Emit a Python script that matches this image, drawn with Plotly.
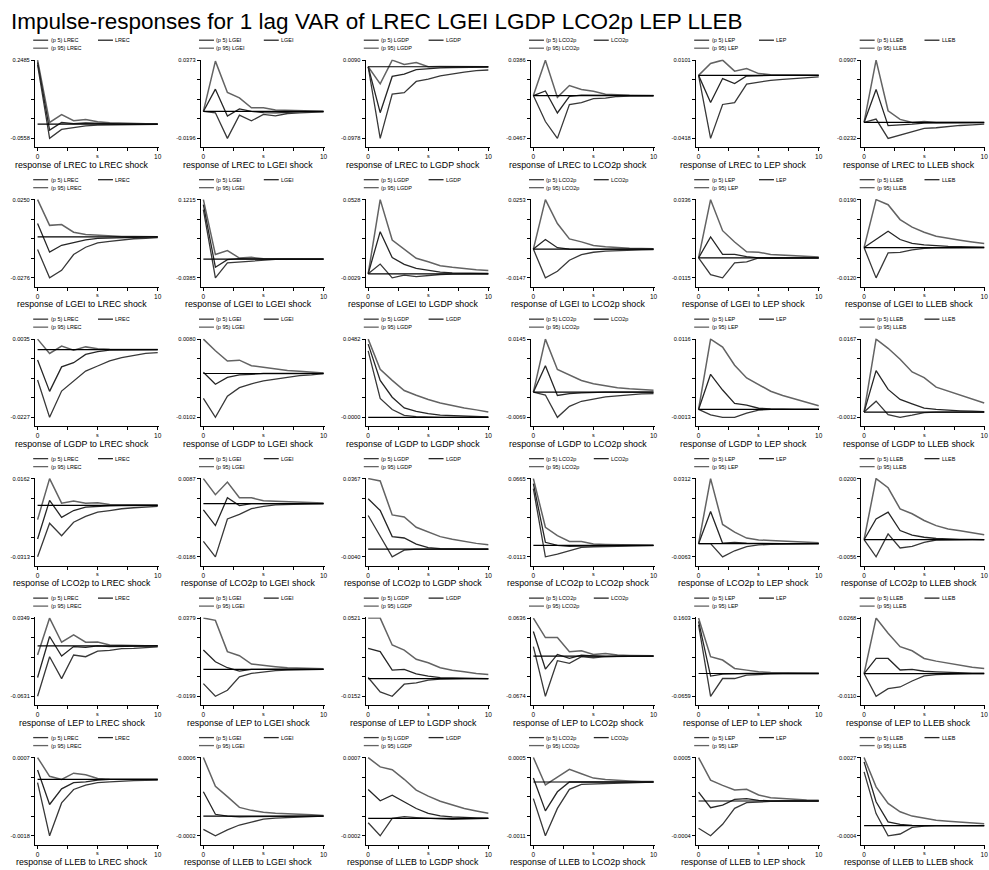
import plotly.graph_objects as go

variables = ["LREC", "LGEI", "LGDP", "LCO2p", "LEP", "LLEB"]
steps = list(range(11))
x_tickvals = [0, 2.5, 5, 7.5, 10]
x_ticktext = ["0", "", "", "", "10"]

# y-axis end labels (min, max) per panel: rows = response, cols = impulse
y_min = [
    [-0.0558, -0.0196, -0.0978, -0.0467, -0.0418, -0.0232],
    [-0.0276, -0.0385, -0.0029, -0.0147, -0.0115, -0.0120],
    [-0.0227, -0.0102, -0.0, -0.0069, -0.0013, -0.0012],
    [-0.0313, -0.0186, -0.0040, -0.0113, -0.0063, -0.0056],
    [-0.0631, -0.0199, -0.0152, -0.0674, -0.0659, -0.0110],
    [-0.0018, -0.0002, -0.0002, -0.0011, -0.0004, -0.0004],
]
y_max = [
    [0.2485, 0.0373, 0.0090, 0.0386, 0.0101, 0.0907],
    [0.0250, 0.1215, 0.0528, 0.0253, 0.0336, 0.0190],
    [0.0035, 0.0080, 0.0482, 0.0145, 0.0116, 0.0167],
    [0.0162, 0.0087, 0.0367, 0.0665, 0.0312, 0.0200],
    [0.0349, 0.0379, 0.0521, 0.0636, 0.1603, 0.0268],
    [0.0007, 0.0006, 0.0007, 0.0005, 0.0005, 0.0027],
]

# ---- response of LREC (to LREC, LGEI, LGDP, LCO2p, LEP, LLEB shocks) ----
lrec_p5 = [
    [0.23, -0.0558, -0.021, -0.0144, -0.007, -0.004, -0.003, -0.002, -0.0015, -0.001, -0.001],
    [0, -0.001, -0.0196, -0.0027, -0.0068, -0.0022, -0.0032, -0.0015, -0.001, -0.0005, -0.0003],
    [0, -0.0978, -0.0372, -0.0354, -0.0201, -0.0169, -0.0123, -0.0095, -0.0072, -0.0053, -0.0044],
    [0, -0.0283, -0.0467, -0.0098, -0.0076, -0.0033, -0.0027, -0.001, -0.0006, -0.0003, -0.0002],
    [0, -0.0418, -0.0193, -0.0181, -0.0058, -0.0047, -0.0033, -0.0027, -0.002, -0.0016, -0.001],
    [0, 0.0049, -0.0232, -0.0183, -0.0145, -0.0086, -0.0077, -0.0058, -0.0044, -0.0034, -0.0025],
]
lrec_irf = [
    [0.24, -0.0235, 0.006, 0.002, 0.004, 0.002, 0.0005, 0.0002, 0.0001, 0.0, 0.0],
    [0, 0.0162, -0.0034, 0.0019, 0, -0.0008, -0.001, -0.0005, -0.0003, -0.0002, -0.0001],
    [0, -0.0627, -0.0132, -0.010, -0.0039, -0.0025, -0.0015, -0.001, -0.0007, -0.0005, -0.0003],
    [0, 0.005, -0.019, -0.001, 0.0005, 0.0003, 0, 0, 0, 0, 0],
    [0, -0.018, -0.0021, -0.0054, -0.0004, 0, 0, 0, 0, 0, 0],
    [0, 0.0481, -0.0047, -0.0039, -0.0025, -0.001, -0.0008, -0.0005, -0.0004, -0.0003, -0.0002],
]
lrec_p95 = [
    [0.2485, 0.006, 0.037, 0.013, 0.018, 0.009, 0.005, 0.003, 0.002, 0.001, 0.001],
    [0, 0.0366, 0.0138, 0.0099, 0.0027, 0.0027, 0.001, 0.0008, 0.0005, 0.0003, 0.0002],
    [0, -0.0234, 0.009, 0.003, 0.0058, 0.0, 0.0005, 0.0003, 0.0002, 0.0001, 0.0001],
    [0, 0.0386, -0.002, 0.0109, 0.0067, 0.0046, 0.0015, 0.0005, 0.0003, 0.0002, 0.0001],
    [0, 0.0079, 0.0101, 0.0028, 0.0046, 0.0012, 0.0005, 0.0003, 0.0002, 0.0001, 0.0001],
    [0, 0.0907, 0.017, 0.0045, 0, 0.0015, 0, 0, 0, 0, 0],
]

# ---- response of LGEI ----
lgei_p5 = [
    [-0.0086, -0.0276, -0.0225, -0.0119, -0.007, -0.0041, -0.003, -0.002, -0.0013, -0.001, -0.0006],
    [0.101, -0.0385, -0.0079, -0.0059, -0.0034, -0.0014, -0.0007, -0.0003, -0.0002, -0.0001, 0],
    [0, 0.0069, -0.0029, -0.001, -0.002, -0.001, -0.0005, -0.0003, -0.0002, -0.0001, -0.0001],
    [0, -0.0147, -0.0113, -0.0057, -0.0028, -0.0016, -0.001, -0.0007, -0.0005, -0.0004, -0.0003],
    [0, -0.0096, -0.0115, -0.0029, -0.0023, 0, -0.0002, -0.0003, -0.0002, -0.0001, -0.0001],
    [0, -0.012, -0.0021, -0.0019, -0.0009, -0.0003, -0.0001, 0, 0, 0, 0],
]
lgei_irf = [
    [0.0089, -0.0103, -0.0057, -0.0037, -0.002, -0.001, -0.0007, -0.0005, -0.0003, -0.0002, -0.0001],
    [0.1113, -0.0167, -0.0014, 0.0007, 0.0003, 0, 0, 0, 0, 0, 0],
    [0, 0.030, 0.0115, 0.0067, 0.0039, 0.0023, 0.0012, 0.0007, 0.0005, 0.0003, 0.0002],
    [0, 0.0049, 0.0007, 0, -0.0001, -0.0001, -0.0001, 0, 0, 0, 0],
    [0, 0.0121, 0.002, 0.002, 0.0008, 0, 0, 0, 0, 0, 0],
    [0, 0.0032, 0.0065, 0.0032, 0.0017, 0.0011, 0.0007, 0.0005, 0.0004, 0.0003, 0.0002],
]
lgei_p95 = [
    [0.025, 0.0077, 0.0082, 0.0031, 0.0015, 0.001, 0.0005, 0.0003, 0.0002, 0.0001, 0.0001],
    [0.1215, 0.0092, 0.0174, 0.002, 0.0034, 0.0005, 0.0003, 0.0002, 0.0001, 0.0001, 0],
    [0, 0.0528, 0.024, 0.0177, 0.011, 0.0086, 0.0058, 0.0046, 0.0035, 0.0028, 0.0023],
    [0, 0.0253, 0.0131, 0.0052, 0.0037, 0.0019, 0.0012, 0.0007, 0.0004, 0.0003, 0.0002],
    [0, 0.0336, 0.0157, 0.0092, 0.0035, 0.0033, 0.002, 0.0016, 0.001, 0.0008, 0.0006],
    [0, 0.019, 0.017, 0.0111, 0.0081, 0.0061, 0.0045, 0.0036, 0.0029, 0.0022, 0.0016],
]

# ---- response of LGDP ----
lgdp_p5 = [
    [-0.0102, -0.0227, -0.0139, -0.0105, -0.0072, -0.0055, -0.0038, -0.0027, -0.0019, -0.0013, -0.001],
    [-0.0058, -0.0102, -0.0053, -0.0033, -0.0024, -0.0017, -0.0013, -0.0009, -0.0005, -0.0003, 0],
    [0.041, 0.0116, 0.0048, 0.0012, 0.0004, 0.0001, 0, 0, 0, 0, 0],
    [0, -0.0008, -0.0069, -0.0039, -0.0025, -0.0018, -0.0013, -0.001, -0.0007, -0.0005, -0.0004],
    [0, -0.0009, -0.0013, -0.0013, -0.0006, -0.0001, 0, 0, 0, 0, 0],
    [0, 0.0025, -0.0006, -0.0012, -0.0007, -0.0001, 0, 0, 0, 0, 0],
]
lgdp_irf = [
    [-0.0035, -0.014, -0.0058, -0.0044, -0.0016, -0.0007, -0.0002, -0.0001, 0, 0, 0],
    [0.0003, -0.0025, -0.0009, -0.0003, -0.0002, 0, 0, 0, 0, 0, 0],
    [0.0451, 0.0228, 0.0124, 0.0058, 0.0037, 0.0023, 0.0014, 0.001, 0.0006, 0.0004, 0.0002],
    [0, 0.0072, -0.0009, -0.0004, -0.0002, 0, 0, 0, 0, 0, 0],
    [0, 0.0058, 0.0032, 0.001, 0.0007, 0.0002, 0.0001, 0, 0, 0, 0],
    [0, 0.0095, 0.0052, 0.0029, 0.0019, 0.0009, 0.0006, 0.0004, 0.0003, 0.0002, 0.0001],
]
lgdp_p95 = [
    [0.0035, -0.0013, 0.0012, -0.0002, 0.0009, 0.0003, 0.0001, 0, 0, 0, 0],
    [0.008, 0.0053, 0.0029, 0.0031, 0.0018, 0.0014, 0.001, 0.0007, 0.0005, 0.0003, 0.0001],
    [0.0482, 0.0296, 0.0228, 0.0165, 0.0136, 0.011, 0.0089, 0.0072, 0.0058, 0.0046, 0.0033],
    [0, 0.0145, 0.0062, 0.0047, 0.0032, 0.0023, 0.0017, 0.0012, 0.0009, 0.0006, 0.0005],
    [0, 0.0116, 0.0103, 0.0073, 0.0052, 0.0041, 0.003, 0.0023, 0.0017, 0.0011, 0.0006],
    [0, 0.0167, 0.0146, 0.0121, 0.0092, 0.0079, 0.0057, 0.0048, 0.0039, 0.003, 0.0021],
]

# ---- response of LCO2p ----
lco2p_p5 = [
    [-0.0313, -0.0109, -0.0185, -0.0103, -0.0068, -0.0042, -0.0032, -0.0021, -0.0015, -0.0011, -0.0007],
    [-0.0132, -0.0186, -0.0054, -0.0038, -0.0018, -0.001, -0.0005, -0.0003, -0.0002, -0.0001, 0],
    [0.0175, 0.0065, -0.004, -0.0005, 0, 0, 0, 0, 0, 0, 0],
    [0.0565, -0.0113, -0.0087, -0.0053, -0.002, -0.0013, -0.0009, -0.0006, -0.0004, -0.0003, -0.0002],
    [0, 0, -0.0063, -0.0034, -0.0014, -0.0006, -0.0003, -0.0002, -0.0001, -0.0001, 0],
    [0, -0.0056, 0.0019, -0.0027, -0.0022, -0.0009, -0.0001, 0, 0, 0, 0],
]
lco2p_irf = [
    [-0.0205, 0.003, -0.0073, -0.0032, -0.0011, -0.0005, -0.0003, -0.0002, -0.0001, 0, 0],
    [-0.0022, -0.0077, 0.002, -0.0007, 0, 0, 0, 0, 0, 0, 0],
    [0.0262, 0.0201, 0.0065, 0.0058, 0.0026, 0.0008, 0.0003, 0.0001, 0, 0, 0],
    [0.0615, 0.0031, 0, -0.0008, -0.0006, -0.0003, -0.0001, 0, 0, 0, 0],
    [0, 0.0154, 0.0002, 0.0006, 0.0003, 0.0001, 0, 0, 0, 0, 0],
    [0, 0.0068, 0.009, 0.003, 0.0015, 0.0008, 0.0004, 0.0002, 0.0001, 0.0001, 0],
]
lco2p_p95 = [
    [-0.0087, 0.0162, 0.0013, 0.0026, 0.0013, 0.0015, 0.0005, 0.0003, 0.0002, 0.0001, 0.0001],
    [0.0087, 0.0031, 0.0075, 0.002, 0.002, 0.001, 0.0008, 0.0006, 0.0004, 0.0003, 0.0002],
    [0.0367, 0.0355, 0.0178, 0.0167, 0.0114, 0.0088, 0.0065, 0.0052, 0.004, 0.003, 0.0023],
    [0.0665, 0.0181, 0.0097, 0.004, 0.004, 0.0014, 0.001, 0.0007, 0.0005, 0.0003, 0.0002],
    [0, 0.0312, 0.0092, 0.0055, 0.0027, 0.0018, 0.0015, 0.0012, 0.001, 0.0007, 0.0005],
    [0, 0.02, 0.017, 0.0101, 0.0085, 0.0063, 0.0046, 0.0035, 0.0029, 0.0023, 0.0016],
]

# ---- response of LEP ----
lep_p5 = [
    [-0.0631, -0.0135, -0.0409, -0.0114, -0.0135, -0.0064, -0.0055, -0.0034, -0.003, -0.0017, -0.0013],
    [-0.0105, -0.0199, -0.0154, -0.0055, -0.003, -0.0018, -0.001, -0.0005, -0.0002, -0.0001, 0],
    [0.001, -0.0114, -0.0152, -0.0048, -0.0036, -0.0013, -0.0004, 0, 0, 0, 0],
    [0.0158, -0.0674, -0.0078, -0.0123, -0.0011, -0.0028, -0.0011, -0.0006, -0.0003, -0.0001, 0],
    [0.1409, -0.0659, -0.0145, -0.0145, -0.0048, -0.0019, -0.001, -0.0005, -0.0002, -0.0001, 0],
    [0, -0.011, -0.0073, -0.0065, -0.0036, -0.0011, -0.0005, -0.0002, -0.0001, 0, 0],
]
lep_irf = [
    [-0.0396, 0.0118, -0.0126, -0.0008, -0.0017, 0, -0.0008, -0.0004, -0.0002, -0.0001, 0],
    [0.0143, 0.0056, 0.0012, -0.0013, 0, 0.0002, 0.0002, 0.0001, 0.0001, 0.0001, 0],
    [0.0261, 0.0232, 0.0073, 0.0079, 0.004, 0.0021, 0.0009, 0.0006, 0.0003, 0.0001, 0],
    [0.0411, -0.0218, 0.0027, -0.0039, 0.0016, 0, -0.0011, -0.0004, 0, 0, 0],
    [0.1506, -0.0075, -0.0016, 0, 0, 0, 0, 0, 0, 0, 0],
    [0, 0.0073, 0.0073, 0.0017, 0.002, 0.0011, 0.0008, 0.0005, 0.0003, 0.0002, 0.0002],
]
lep_p95 = [
    [-0.0114, 0.0349, 0.0046, 0.0138, 0.0046, 0.005, 0.0013, 0.0013, 0.0005, 0.0002, 0.0001],
    [0.0379, 0.0362, 0.0131, 0.0101, 0.0039, 0.0028, 0.002, 0.0012, 0.0009, 0.0007, 0.0005],
    [0.0521, 0.0521, 0.029, 0.0246, 0.0166, 0.0137, 0.0094, 0.0073, 0.0059, 0.0044, 0.0036],
    [0.0636, 0.031, 0.031, 0.0074, 0.009, 0.0027, 0.0043, 0.0016, 0.001, 0.0005, 0.0005],
    [0.1603, 0.0486, 0.039, 0.0146, 0.0098, 0.005, 0.003, 0.002, 0.0015, 0.001, 0.0008],
    [0, 0.0268, 0.0195, 0.013, 0.011, 0.0073, 0.006, 0.0049, 0.0038, 0.003, 0.0024],
]

# ---- response of LLEB ----
lleb_p5 = [
    [-0.0001, -0.0018, -0.00075, -0.00032, -0.00018, -0.0001, -0.00008, -0.00005, -0.00004, -0.00003, -0.00002],
    [-0.000135, -0.0002, -0.00014, -0.00009, -0.00006, -0.00003, -0.00002, -0.000013, -0.000007, -0.000003, 0],
    [-0.00005, -0.0002, 0, 0.00002, 0.00001, 0, -0.000005, -0.00001, -0.000005, 0, 0],
    [-0.00034, -0.0011, -0.00054, -0.00015, -0.00005, -0.00004, -0.00003, -0.00002, -0.00001, -0.00001, 0],
    [-0.000314, -0.0004, -0.000268, -0.000084, -0.000019, -0.000008, -0.000005, 0, 0, 0, 0],
    [0.00213, 0.00048, -0.0004, -0.00033, -0.00007, -0.00002, 0, 0, 0, 0, 0],
]
lleb_irf = [
    [0.0003, -0.0008, -0.0003, -0.0001, -0.00008, -0.00002, 0, 0, 0, 0, 0],
    [0.00025, 0.00002, 0, -0.000007, -0.000005, -0.000003, 0, 0, 0, 0, 0],
    [0.000332, 0.000202, 0.000267, 0.00019, 0.000114, 0.000057, 0.00003, 0.000018, 0.00001, 0.000007, 0.000004],
    [0.00008, -0.00059, -0.0002, 0, 0, 0, 0, 0, 0, 0, 0],
    [0.000103, -0.000077, -0.000046, 0.000019, 0.000027, 0.000008, 0, 0, 0, 0, 0],
    [0.00253, 0.00095, 0.00015, 0.00005, 0.00001, 0, 0, 0, 0, 0, 0],
]
lleb_p95 = [
    [0.0007, 0.0001, 0, 0.0002, 0.00015, 0.00003, 0.00001, 0, 0, 0, 0],
    [0.0006, 0.000307, 0.0002, 0.00009, 0.00006, 0.00004, 0.00003, 0.000027, 0.00002, 0.000014, 0.000007],
    [0.0007, 0.000593, 0.00056, 0.00045, 0.000325, 0.000256, 0.000198, 0.000152, 0.000114, 0.000086, 0.00006],
    [0.0005, -0.00006, 0.0001, 0.00026, 0.00017, 0.00008, 0.00005, 0.00003, 0.00002, 0.00001, 0.00001],
    [0.0005, 0.000241, 0.00018, 0.000126, 0.000134, 0.000069, 0.000038, 0.000027, 0.000019, 0.000011, 0.000008],
    [0.0027, 0.00154, 0.00088, 0.00055, 0.00038, 0.0003, 0.00022, 0.00018, 0.00015, 0.00011, 0.00008],
]

p5_rows = [lrec_p5, lgei_p5, lgdp_p5, lco2p_p5, lep_p5, lleb_p5]
irf_rows = [lrec_irf, lgei_irf, lgdp_irf, lco2p_irf, lep_irf, lleb_irf]
p95_rows = [lrec_p95, lgei_p95, lgdp_p95, lco2p_p95, lep_p95, lleb_p95]

# ---------------- layout geometry (pixels) ----------------
W, H = 989, 870
FONT = "Liberation Sans Narrow, Arial Narrow, Liberation Sans, Arial, sans-serif"
col_s0 = [37.7, 204.0, 369.3, 535.0, 700.7, 866.7]
row_top = [58.3 + 139.8 * r for r in range(6)]
px_per_step = 12.05
plot_h = 78.4      # from max label to min label
axis_gap = 9.0     # min label to x-axis line
x_lo, x_hi = -0.22, 10.1

C_P5, C_IRF, C_P95 = "#383838", "#262626", "#636363"


def fx(px):
    return px / W


def fy(py):
    return 1 - py / H


fig = go.Figure()
layout = dict(
    width=W, height=H, margin=dict(l=0, r=0, t=0, b=0),
    paper_bgcolor="white", plot_bgcolor="white", showlegend=False,
    font=dict(family=FONT, color="black"),
)
annotations = []
shapes = []

for r in range(6):
    for c in range(6):
        k = r * 6 + c + 1
        xa = "x" if k == 1 else f"x{k}"
        ya = "y" if k == 1 else f"y{k}"
        lo, hi = y_min[r][c], y_max[r][c]
        span = hi - lo
        T = row_top[r]
        s0 = col_s0[c]
        xd = [fx(s0 + x_lo * px_per_step), fx(s0 + x_hi * px_per_step)]
        top_px = T - 0.6
        bot_px = T + plot_h + axis_gap
        yd = [fy(bot_px), fy(top_px)]
        y_range = [lo - span * axis_gap / plot_h, hi + span * 0.6 / plot_h]
        tv = [lo + span * i / 4 for i in range(5)]
        tt = [f"{lo:.4f}", "", "", "", f"{hi:.4f}"]
        layout["xaxis" if k == 1 else f"xaxis{k}"] = dict(
            domain=xd, range=[x_lo, x_hi], anchor=ya,
            tickmode="array", tickvals=x_tickvals, ticktext=x_ticktext,
            ticks="outside", ticklen=3, tickwidth=1, tickcolor="black",
            showline=True, linecolor="black", linewidth=1,
            showgrid=False, zeroline=False,
            tickfont=dict(size=6.5, family=FONT), fixedrange=True,
        )
        layout["yaxis" if k == 1 else f"yaxis{k}"] = dict(
            domain=yd, range=y_range, anchor=xa,
            tickmode="array", tickvals=tv, ticktext=tt,
            ticks="outside", ticklen=3, tickwidth=1, tickcolor="black",
            showline=True, linecolor="black", linewidth=1,
            showgrid=False, zeroline=False,
            tickfont=dict(size=5.7, family=FONT), fixedrange=True,
        )
        for data, col, w in ((p95_rows, C_P95, 1.5), (p5_rows, C_P5, 1.3), (irf_rows, C_IRF, 1.3)):
            fig.add_trace(go.Scatter(
                x=steps, y=data[r][c], mode="lines",
                line=dict(color=col, width=w),
                xaxis=xa, yaxis=ya, hoverinfo="skip",
            ))
        shapes.append(dict(type="line", xref=xa, yref=ya, x0=0, x1=10, y0=0, y1=0,
                           line=dict(color="black", width=1.2)))
        imp = variables[c]
        leg = [
            (f"(p 5) {imp}", s0 - 4.4, T - 20, C_P5),
            (imp, s0 + 60.6, T - 20, C_IRF),
            (f"(p 95) {imp}", s0 - 4.4, T - 12, C_P95),
        ]
        for txt, lx, ly, lc in leg:
            shapes.append(dict(type="line", xref="paper", yref="paper",
                               x0=fx(lx), x1=fx(lx + 15), y0=fy(ly), y1=fy(ly),
                               line=dict(color=lc, width=1.3)))
            annotations.append(dict(text=txt, xref="paper", yref="paper",
                                    x=fx(lx + 15.5), y=fy(ly), xanchor="left", yanchor="middle",
                                    showarrow=False, font=dict(size=5.5, family=FONT)))
        annotations.append(dict(text="s", xref="paper", yref="paper",
                                x=fx(s0 + 5 * px_per_step), y=fy(T + 96), xanchor="center",
                                yanchor="middle", showarrow=False, font=dict(size=5.5, family=FONT)))
        annotations.append(dict(text=f"response of {variables[r]} to {imp} shock",
                                xref="paper", yref="paper",
                                x=fx(s0 + 45), y=fy(T + 105), xanchor="center",
                                yanchor="middle", showarrow=False, font=dict(size=8.8, family=FONT)))

annotations.append(dict(text="Impulse-responses for 1 lag VAR of LREC LGEI LGDP LCO2p LEP LLEB",
                        xref="paper", yref="paper", x=fx(9), y=fy(20), xanchor="left",
                        yanchor="middle", showarrow=False, font=dict(size=22.5, family=FONT)))

layout["annotations"] = annotations
layout["shapes"] = shapes
fig.update_layout(**layout)
fig.write_html("out.html", config={"displayModeBar": False},
               post_script="document.body.style.margin='0px';")
